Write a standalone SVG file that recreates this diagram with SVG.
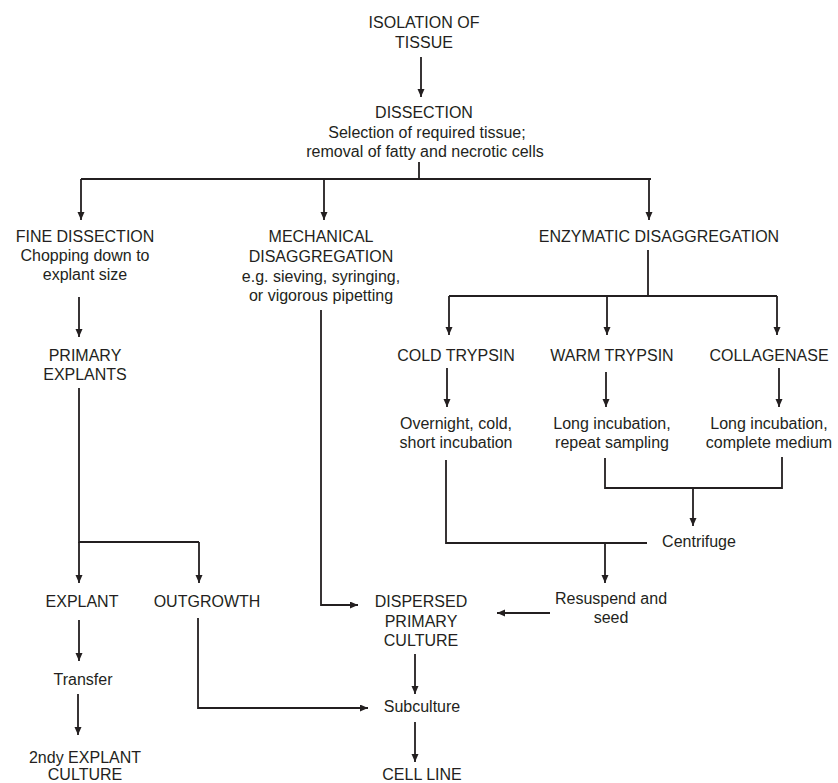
<svg xmlns="http://www.w3.org/2000/svg" width="838" height="783" viewBox="0 0 838 783">
<style>
text{font-family:"Liberation Sans",Arial,sans-serif;font-size:16px;fill:#231f20;text-anchor:middle}
.c{fill:none;stroke:#231f20;stroke-width:1.8}
.a{marker-end:url(#ah)}
</style>
<defs>
<marker id="ah" markerUnits="userSpaceOnUse" markerWidth="8" markerHeight="8" refX="8" refY="3.5" orient="auto">
<path d="M0,0 L8,3.5 L0,7 Z" fill="#231f20"/>
</marker>
</defs>
<rect width="838" height="783" fill="#fff"/>
<g id="connectors">
<path class="c a" d="M421,57 V97"/>
<path class="c" d="M419,162 V179 M81,179 H651"/>
<path class="c a" d="M81,179 V220"/>
<path class="c a" d="M324,179 V220"/>
<path class="c a" d="M649,179 V220"/>
<path class="c a" d="M79,297 V337"/>
<path class="c" d="M79,388 V542 H199"/>
<path class="c a" d="M79,542 V583"/>
<path class="c a" d="M199,542 V583"/>
<path class="c a" d="M79,620 V661"/>
<path class="c a" d="M78,694 V735"/>
<path class="c a" d="M198,618 V708 H368"/>
<path class="c a" d="M321,310 V605 H358"/>
<path class="c a" d="M415,654 V694"/>
<path class="c a" d="M415,722 V762"/>
<path class="c" d="M648,250 V296 M449,296 H777"/>
<path class="c a" d="M449,296 V335"/>
<path class="c a" d="M607,296 V335"/>
<path class="c a" d="M777,296 V335"/>
<path class="c a" d="M447,368 V407"/>
<path class="c a" d="M606,372 V407"/>
<path class="c a" d="M779,368 V407"/>
<path class="c" d="M446,460 V543 H647"/>
<path class="c a" d="M605,543 V583"/>
<path class="c" d="M605,458 V488 H782 V457"/>
<path class="c a" d="M693,488 V526"/>
<path class="c a" d="M550,613 H497"/>
</g>
<g id="isolation"><text x="424" y="28">ISOLATION OF</text><text x="424" y="48">TISSUE</text></g>
<g id="dissection"><text x="424" y="118">DISSECTION</text><text x="427" y="138">Selection of required tissue;</text><text x="425" y="157">removal of fatty and necrotic cells</text></g>
<g id="fine"><text x="85" y="242">FINE DISSECTION</text><text x="85" y="261">Chopping down to</text><text x="85" y="280">explant size</text></g>
<g id="mechanical"><text x="321" y="242">MECHANICAL</text><text x="321" y="262">DISAGGREGATION</text><text x="321" y="282">e.g. sieving, syringing,</text><text x="321" y="301">or vigorous pipetting</text></g>
<g id="enzymatic"><text x="659" y="242">ENZYMATIC DISAGGREGATION</text></g>
<g id="primary"><text x="85" y="361">PRIMARY</text><text x="85" y="380">EXPLANTS</text></g>
<g id="cold"><text x="456" y="361">COLD TRYPSIN</text></g>
<g id="warm"><text x="612" y="361">WARM TRYPSIN</text></g>
<g id="collagenase"><text x="769" y="361">COLLAGENASE</text></g>
<g id="cold2"><text x="456" y="429">Overnight, cold,</text><text x="456" y="448">short incubation</text></g>
<g id="warm2"><text x="612" y="429">Long incubation,</text><text x="612" y="448">repeat sampling</text></g>
<g id="coll2"><text x="769" y="429">Long incubation,</text><text x="769" y="448">complete medium</text></g>
<g id="centrifuge"><text x="699" y="547">Centrifuge</text></g>
<g id="resuspend"><text x="611" y="604">Resuspend and</text><text x="611" y="623">seed</text></g>
<g id="explant"><text x="82" y="607">EXPLANT</text></g>
<g id="outgrowth"><text x="207" y="607">OUTGROWTH</text></g>
<g id="dispersed"><text x="421" y="607">DISPERSED</text><text x="421" y="627">PRIMARY</text><text x="421" y="646">CULTURE</text></g>
<g id="transfer"><text x="83" y="685">Transfer</text></g>
<g id="subculture"><text x="422" y="712">Subculture</text></g>
<g id="secondary"><text x="85" y="763">2ndy EXPLANT</text><text x="85" y="780">CULTURE</text></g>
<g id="cellline"><text x="422" y="780">CELL LINE</text></g>
</svg>
